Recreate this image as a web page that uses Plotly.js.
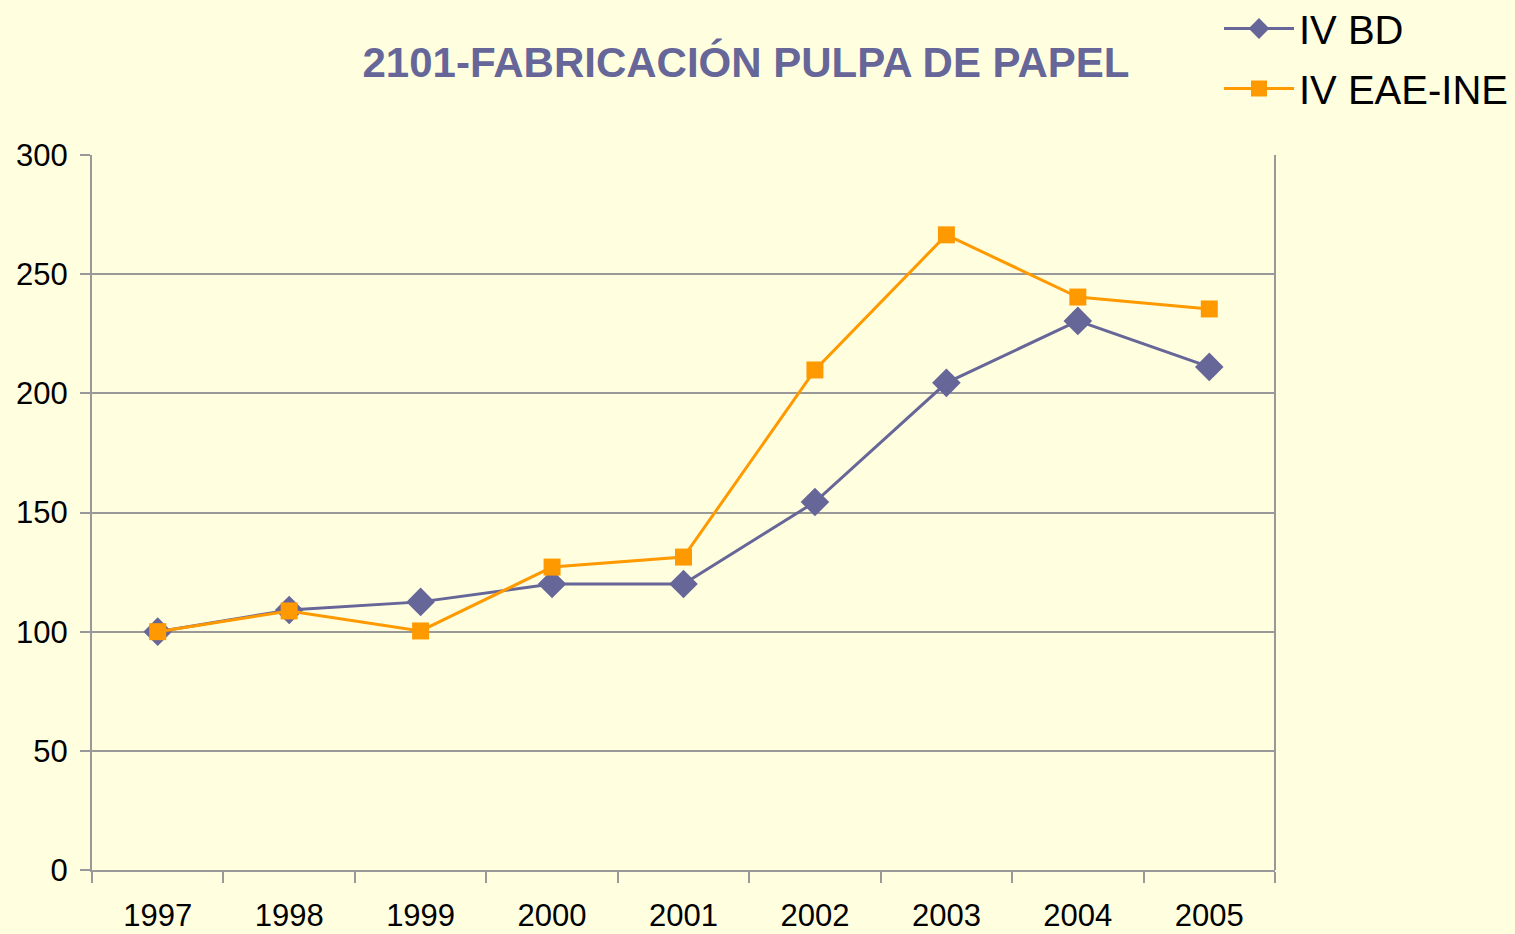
<!DOCTYPE html>
<html><head><meta charset="utf-8">
<script src="https://cdn.plot.ly/plotly-3.0.1.min.js"></script>
<style>html,body{margin:0;padding:0;background:#FFFFE0;}</style>
</head><body>
<div id="chart" style="width:1515px;height:934px;"></div>
<script>
const years = ["1997","1998","1999","2000","2001","2002","2003","2004","2005"];
const ivBD = [100, 109.1, 112.5, 120, 120, 154.4, 204.4, 230.4, 211.1];
const ivEAE = [100, 108.7, 100.3, 127.1, 131.3, 209.8, 266.5, 240.4, 235.4];
const seriesNames = ["IV BD", "IV EAE-INE"];

const traces = [
  {x: years, y: ivBD, name: seriesNames[0], type: 'scatter', mode: 'lines+markers', legendgroup: 'a',
   line: {color: '#666699', width: 3}, marker: {symbol: 'diamond', size: 22, color: '#666699'}},
  {x: years, y: ivEAE, name: seriesNames[1], type: 'scatter', mode: 'lines+markers', legendgroup: 'b',
   line: {color: '#FF9900', width: 3}, marker: {symbol: 'square', size: 17, color: '#FF9900'}}
];

const layout = {
  width: 1515, height: 934,
  paper_bgcolor: '#FFFFE0', plot_bgcolor: '#FFFFE0',
  margin: {l: 92, r: 240, t: 155, b: 64, autoexpand: false},
  font: {family: 'Liberation Sans, Arial, sans-serif', color: '#000'},
  title: {text: '<b>2101-FABRICACIÓN PULPA DE PAPEL</b>', font: {size: 42, color: '#666699', family: 'Liberation Sans, Arial, sans-serif'},
          x: 746/1515, xanchor: 'center', y: 1 - 62/934, yanchor: 'middle'},
  xaxis: {type: 'category', range: [-0.5, 8.5], tickson: 'boundaries', ticks: 'outside', ticklen: 11,
          tickcolor: '#999', tickwidth: 2, showgrid: false, showline: true, linecolor: '#999', linewidth: 2,
          tickfont: {size: 31}, zeroline: false, ticklabelstandoff: 17},
  yaxis: {range: [0, 300], dtick: 50, ticks: 'outside', ticklen: 10, tickcolor: '#999', tickwidth: 2,
          showgrid: true, gridcolor: '#999', gridwidth: 2, showline: true, linecolor: '#999', linewidth: 2,
          tickfont: {size: 31}, zeroline: false, ticklabelstandoff: 6},
  shapes: [{type: 'line', xref: 'paper', yref: 'paper', x0: 1, x1: 1, y0: 0, y1: 1, line: {color: '#999', width: 2}}],
  legend: {xref: 'paper', yref: 'paper', x: (1219-92)/1183, y: 1 + (155+4)/715, xanchor: 'left', yanchor: 'top',
           font: {size: 40}, bgcolor: 'rgba(0,0,0,0)', traceorder: 'grouped', tracegroupgap: 5, itemwidth: 70}
};
Plotly.newPlot('chart', traces, layout, {displayModeBar: false});
</script>
</body></html>
